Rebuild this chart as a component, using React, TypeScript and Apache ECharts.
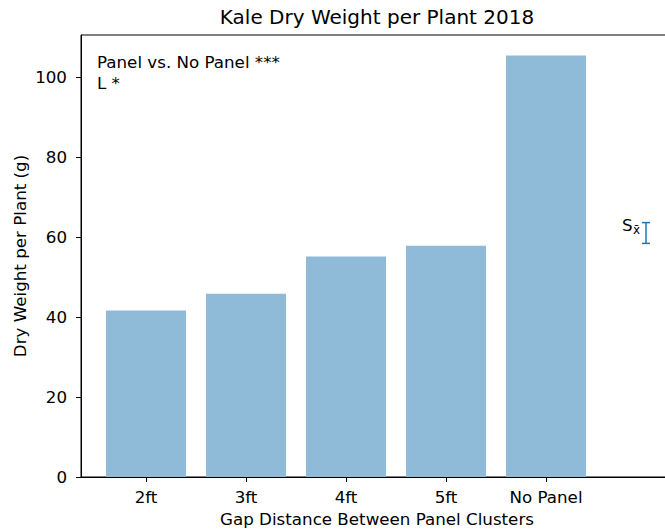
import React, { useEffect, useRef } from "react";
import * as echarts from "echarts";

const categories = ["2ft", "3ft", "4ft", "5ft", "No Panel"];
const dryWeight = [41.6, 45.8, 55.1, 57.8, 105.4];
const yTicks = [0, 20, 40, 60, 80, 100];
const errorBarX = [5];
const errorBarMean = [61];
const errorBarHalf = [2.6];
const titleText = "Kale Dry Weight per Plant 2018";
const xAxisTitle = "Gap Distance Between Panel Clusters";
const yAxisTitle = "Dry Weight per Plant (g)";
const noteLines = ["Panel vs. No Panel ***", "L *"];

const FONT = "DejaVu Sans";
const FS = 16.7;

export default function App() {
  const ref = useRef<HTMLDivElement>(null);
  useEffect(() => {
    if (!ref.current) return;
    const chart = echarts.init(ref.current, null, { renderer: "svg" });
    const option: any = {
      animation: false,
      backgroundColor: "#ffffff",
      textStyle: { fontFamily: FONT },
      grid: {
        left: 81,
        top: 35,
        width: 592,
        height: 442,
        show: true,
        borderColor: "#000",
        borderWidth: 1,
        backgroundColor: "transparent",
      },
      xAxis: {
        type: "value",
        min: -0.65,
        max: 5.27,
        axisLine: { show: true, onZero: false, lineStyle: { color: "#000", width: 1 } },
        axisTick: {
          show: true,
          customValues: categories.map((_, i) => i),
          length: 5,
          lineStyle: { color: "#000" },
        },
        axisLabel: {
          customValues: categories.map((_, i) => i),
          formatter: (v: number) => categories[Math.round(v)] ?? "",
          color: "#000",
          fontSize: FS,
          fontFamily: FONT,
          margin: 11,
        },
        splitLine: { show: false },
      },
      yAxis: {
        type: "value",
        min: 0,
        max: 110.5,
        axisLine: { show: true, onZero: false, lineStyle: { color: "#000", width: 1 } },
        axisTick: {
          show: true,
          customValues: yTicks,
          length: 5,
          lineStyle: { color: "#000" },
        },
        axisLabel: {
          customValues: yTicks,
          color: "#000",
          fontSize: FS,
          fontFamily: FONT,
          margin: 14,
        },
        splitLine: { show: false },
      },
      series: [
        {
          type: "bar",
          data: dryWeight.map((v, i) => [i, v]),
          barWidth: 80,
          itemStyle: { color: "#8fbbd9" },
        },
        {
          type: "custom",
          data: errorBarX.map((x, i) => [x, errorBarMean[i], errorBarHalf[i]]),
          renderItem: (params: any, api: any) => {
            const x = api.value(0);
            const m = api.value(1);
            const h = api.value(2);
            const top = api.coord([x, m + h]);
            const bot = api.coord([x, m - h]);
            const mid = api.coord([x, m]);
            const cap = 4;
            const ls = { stroke: "#1f77b4", lineWidth: 1.5 };
            return {
              type: "group",
              children: [
                { type: "line", shape: { x1: top[0], y1: top[1], x2: bot[0], y2: bot[1] }, style: ls },
                { type: "line", shape: { x1: top[0] - cap, y1: top[1], x2: top[0] + cap, y2: top[1] }, style: ls },
                { type: "line", shape: { x1: bot[0] - cap, y1: bot[1], x2: bot[0] + cap, y2: bot[1] }, style: ls },
                {
                  type: "text",
                  x: mid[0] - 24,
                  y: mid[1] - 8,
                  style: { text: "S", fill: "#000", fontSize: FS, fontFamily: FONT, align: "left", verticalAlign: "middle" },
                },
                {
                  type: "text",
                  x: mid[0] - 13,
                  y: mid[1] - 3.5,
                  style: { text: "x\u0304", fill: "#000", fontSize: 12, fontFamily: FONT, align: "left", verticalAlign: "middle" },
                },
              ],
            };
          },
        },
      ],
      graphic: [
        {
          type: "text",
          x: 377,
          y: 17,
          style: { text: titleText, fill: "#000", fontSize: 20, fontFamily: FONT, align: "center", verticalAlign: "middle" },
        },
        {
          type: "text",
          x: 377,
          y: 519,
          style: { text: xAxisTitle, fill: "#000", fontSize: FS, fontFamily: FONT, align: "center", verticalAlign: "middle" },
        },
        {
          type: "text",
          x: 20,
          y: 256,
          rotation: Math.PI / 2,
          style: { text: yAxisTitle, fill: "#000", fontSize: FS, fontFamily: FONT, align: "center", verticalAlign: "middle" },
        },
        {
          type: "text",
          x: 97,
          y: 62,
          style: { text: noteLines[0], fill: "#000", fontSize: FS, fontFamily: FONT, align: "left", verticalAlign: "middle" },
        },
        {
          type: "text",
          x: 97,
          y: 83,
          style: { text: noteLines[1], fill: "#000", fontSize: FS, fontFamily: FONT, align: "left", verticalAlign: "middle" },
        },
      ],
    };
    chart.setOption(option);
    return () => chart.dispose();
  }, []);
  return (
    <div style={{ position: "fixed", left: 0, top: 0, width: 665, height: 531, overflow: "hidden", background: "#fff" }}>
      <div ref={ref} style={{ width: 700, height: 531 }} />
    </div>
  );
}
